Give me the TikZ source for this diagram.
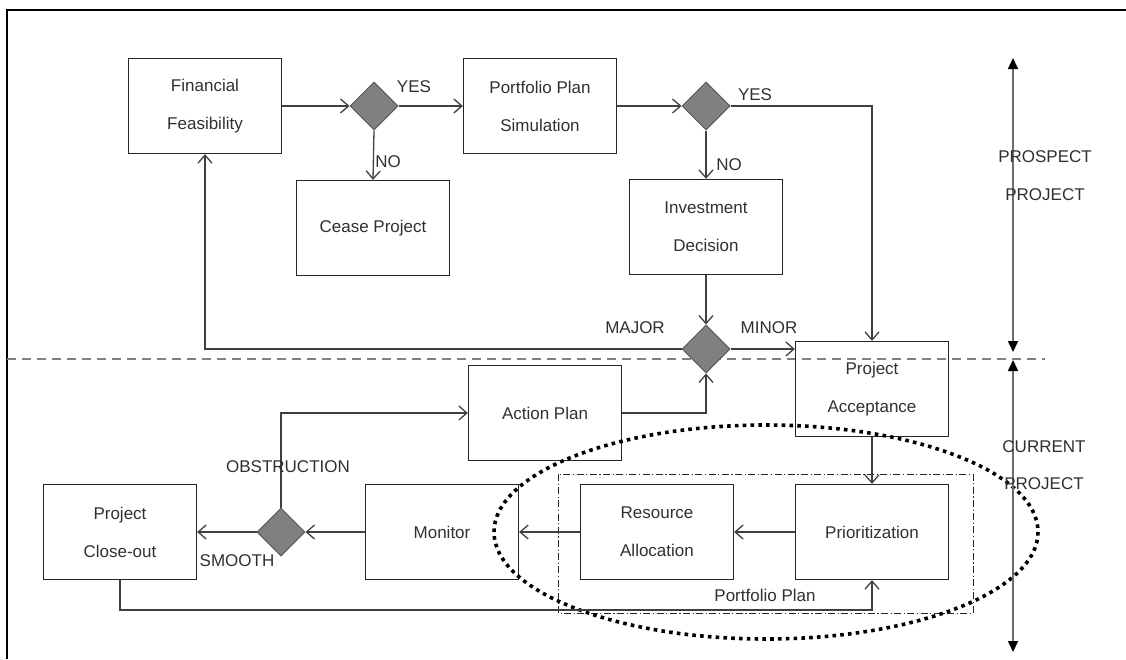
\documentclass[tikz,border=0pt]{standalone}
\usepackage{fontspec}
\setmainfont{Liberation Sans}
\usetikzlibrary{shapes.geometric,arrows.meta}
\definecolor{linec}{HTML}{404040}
\definecolor{boxc}{HTML}{262626}
\definecolor{txtc}{HTML}{303030}
\definecolor{dfill}{HTML}{808080}
\definecolor{dline}{HTML}{5A5A5A}
\begin{document}
\begin{tikzpicture}[x=1pt,y=-1pt,
  font=\fontsize{17}{19}\selectfont,
  every node/.style={text=txtc},
  box/.style={draw=boxc,line width=1.3pt,minimum width=153pt,minimum height=95pt,align=center,inner sep=0pt},
  dec/.style={shape=diamond,aspect=1,draw=dline,fill=dfill,line width=1pt,minimum size=48pt,inner sep=0pt},
  conn/.style={draw=linec,line width=1.3pt,-{Straight Barb[length=8pt,width=14pt,line width=1.3pt]}},
  lbl/.style={inner sep=0pt},
  span/.style={draw=gray!85!black,line width=1.6pt,{Triangle[length=11pt,width=10pt,color=black]}-{Triangle[length=11pt,width=10pt,color=black]}}
]
\useasboundingbox (0,0) rectangle (1126,659);
% frame
\draw[black,line width=1.5pt] (7,659) -- (7,10) -- (1126,10);
% divider
\draw[gray,line width=1.6pt,dash pattern=on 9pt off 6pt] (7,359) -- (1045,359);

% nodes
\node[box] (ff) at (205,106) {Financial\\[19pt]Feasibility};
\node[dec] (d1) at (374,106) {};
\node[box] (pps) at (540,106) {Portfolio Plan\\[19pt]Simulation};
\node[dec] (d2) at (706,106) {};
\node[box] (cease) at (373,228) {Cease Project};
\node[box] (inv) at (706,227) {Investment\\[19pt]Decision};
\node[dec] (d3) at (706,349) {};
\node[box] (pa) at (872,389) {Project\\[19pt]Acceptance};
\node[box] (ap) at (545,413) {Action Plan};
\node[box] (pco) at (120,532) {Project\\[19pt]Close-out};
\node[dec] (d4) at (281,532) {};
\node[box] (mon) at (442,532) {Monitor};
\node[box] (ra) at (657,532) {Resource\\[19pt]Allocation};
\node[box] (pri) at (872,532) {Prioritization};

% portfolio plan group
\draw[boxc,line width=1pt,dash pattern=on 7pt off 2.5pt on 1.2pt off 2.5pt] (558,474) rectangle (973,613);
\node[lbl] (ppl) at (765,595) {Portfolio Plan};
\draw[black,line width=3.6pt,dash pattern=on 3.6pt off 4.2pt] (766,532) ellipse [x radius=272, y radius=107];

% connectors
\draw[conn] (ff.east) -- (d1.west);
\draw[conn] (d1.east) -- (pps.west);
\draw[conn] (d1.south) -- (cease.north);
\draw[conn] (pps.east) -- (d2.west);
\draw[conn] (d2.east) -| (pa.north);
\draw[conn] (d2.south) -- (inv.north);
\draw[conn] (inv.south) -- (d3.north);
\draw[conn] (d3.west) -| (ff.south);
\draw[conn] (d3.east) -- (pa.west |- d3.east);
\draw[conn] (ap.east) -| (d3.south);
\draw[conn] (pa.south) -- (pri.north);
\draw[conn] (pri.west) -- (ra.east);
\draw[conn] (ra.west) -- (mon.east);
\draw[conn] (mon.west) -- (d4.east);
\draw[conn] (d4.west) -- (pco.east);
\draw[conn] (d4.north) |- (ap.west);
\coordinate (lowL) at (120,610);
\coordinate (lowR) at (872,610);
\draw[conn] (pco.south) -- (lowL) -- (lowR) -- (pri.south);

% labels
\node[lbl] (yes1) at (414,87) {YES};
\node[lbl] (yes2) at (755,95) {YES};
\node[lbl] (no1) at (388,162) {NO};
\node[lbl] (no2) at (729,165) {NO};
\node[lbl] (major) at (635,328) {MAJOR};
\node[lbl] (minor) at (769,328) {MINOR};
\node[lbl] (obs) at (288,467) {OBSTRUCTION};
\node[lbl] (smooth) at (237,561) {SMOOTH};

% side spans
\coordinate (s1a) at (1013,58);
\coordinate (s1b) at (1013,352);
\coordinate (s2a) at (1013,360);
\coordinate (s2b) at (1013,652);
\draw[span] (s1a) -- (s1b);
\draw[span] (s2a) -- (s2b);
\node[lbl] (pr1) at (1045,157) {PROSPECT};
\node[lbl] (pr2) at (1045,195) {PROJECT};
\node[lbl] (cu1) at (1044,447) {CURRENT};
\node[lbl] (cu2) at (1044,484) {PROJECT};
\end{tikzpicture}
\end{document}
